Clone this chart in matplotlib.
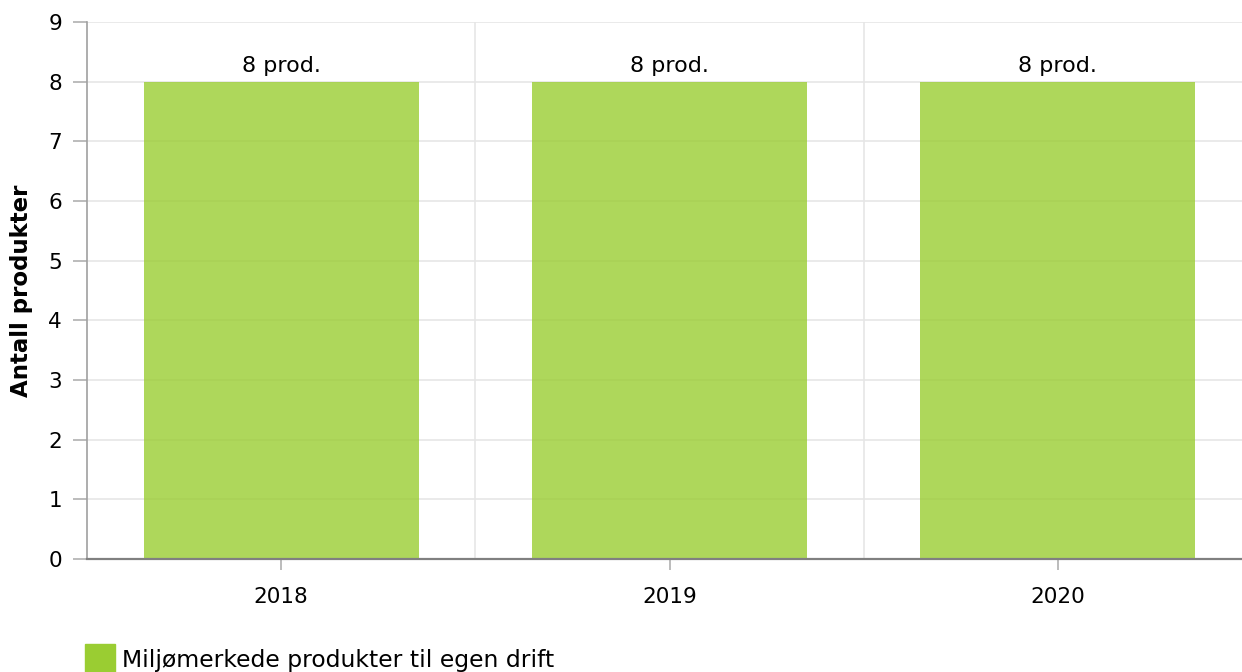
import numpy as np
import matplotlib.pyplot as plt

years = ["2018", "2019", "2020"]
antall = [8, 8, 8]
etiketter = ["8 prod.", "8 prod.", "8 prod."]
serie_navn = "Miljømerkede produkter til egen drift"

plt.rcParams['font.family'] = ['DejaVu Sans']

fig = plt.figure(figsize=(12.42, 6.72), dpi=100)
W, H = 1242, 672
ax = fig.add_axes([87/W, 1-559/H, (1252-87)/W, (559-22)/H])

x = np.arange(len(years))
bars = ax.bar(x, antall, width=0.708, color='#9ACD32', alpha=0.8, zorder=2)
for b, lab in zip(bars, etiketter):
    ax.text(b.get_x()+b.get_width()/2, b.get_height()+0.1, lab,
            ha='center', va='bottom', fontsize=16, color='black')

ax.set_xlim(-0.5, len(years)-0.5)
ax.set_ylim(0, 9)
ax.set_yticks(range(0, 10))
ax.set_xticks(x)
ax.set_xticklabels(years)
ax.set_xticks(x[:-1]+0.5, minor=True)

ax.grid(axis='y', color='#e6e6e6', linewidth=1.2, zorder=0)
ax.grid(axis='x', which='minor', color='#e6e6e6', linewidth=1.2, zorder=0)
ax.tick_params(axis='x', which='minor', length=0)
ax.tick_params(axis='y', length=10, width=1.2, color='#b0b0b0', labelsize=15.5, pad=8)
ax.tick_params(axis='x', which='major', length=8, width=1.2, color='#b0b0b0', labelsize=15.5, pad=12)

for s in ['top', 'right']:
    ax.spines[s].set_visible(False)
ax.spines['left'].set_color('#a0a0a0')
ax.spines['left'].set_linewidth(1.2)
ax.spines['bottom'].set_color('#808080')
ax.spines['bottom'].set_linewidth(1.6)

fig.text(22/W, 1-291/H, "Antall produkter", rotation=90, ha='center', va='center',
         fontsize=16.5, fontweight='bold')

# legend
fig.patches.append(plt.Rectangle((85/W, 0), 30/W, 28/H, transform=fig.transFigure,
                                 color='#9ACD32', zorder=3))
fig.text(122/W, 1-660/H, serie_navn, ha='left', va='center', fontsize=16.9)

fig.savefig("out.png", dpi=100)
